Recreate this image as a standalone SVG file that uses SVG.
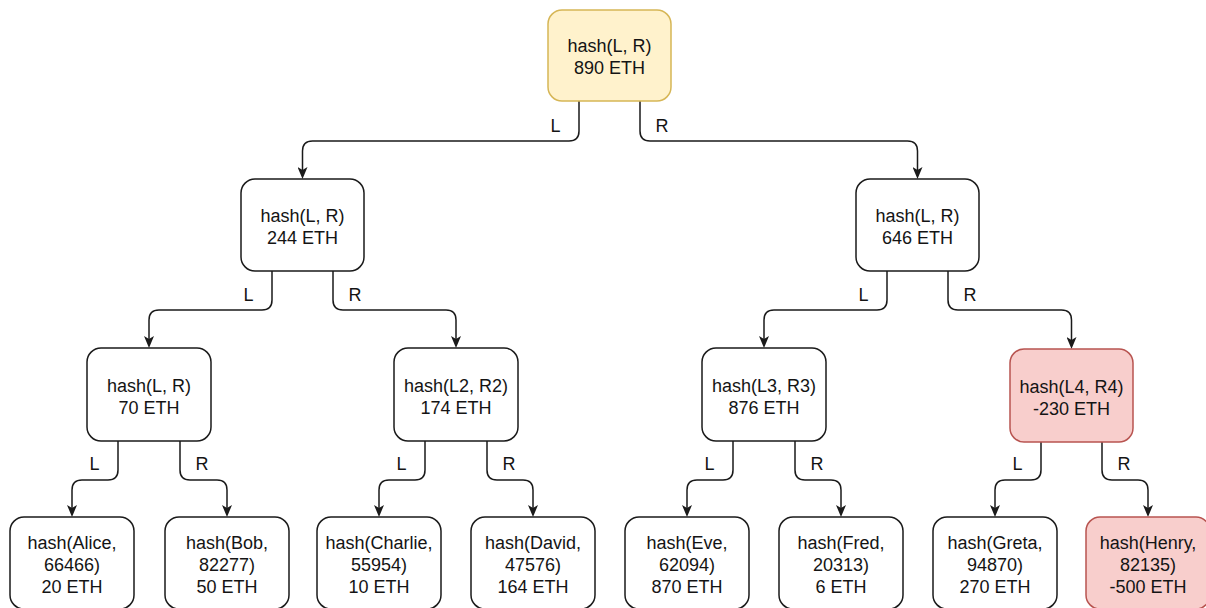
<svg xmlns="http://www.w3.org/2000/svg" width="1206" height="608" viewBox="0 0 1206 608">
  <style>
    .box { fill: #ffffff; stroke: #1a1a1a; stroke-width: 1.5; }
    .root { fill: #fff2cc; stroke: #d6b656; }
    .neg { fill: #f8cecc; stroke: #b85450; }
    .txt { font-family: "Liberation Sans", Arial, sans-serif; font-size: 18px; fill: #141414; text-anchor: middle; }
    .edge { fill: none; stroke: #1a1a1a; stroke-width: 1.5; marker-end: url(#arrow); }
    .lbl { font-family: "Liberation Sans", Arial, sans-serif; font-size: 18px; fill: #141414; text-anchor: middle; }
  </style>
  <defs>
    <marker id="arrow" markerUnits="userSpaceOnUse" markerWidth="12" markerHeight="10" viewBox="0 0 12 10" refX="3" refY="5" orient="auto">
      <path d="M0,0 L12,5 L0,10 L3,5 Z" fill="#1a1a1a"/>
    </marker>
  </defs>
  <rect width="1206" height="608" fill="#ffffff"/>

  <!-- connectors: orthogonal with rounded bends, labelled L / R -->
  <g id="connectors">
    <!-- root -->
    <path class="edge" d="M579,101 V131 Q579,141 569,141 H312.5 Q302.5,141 302.5,151 V170"/>
    <path class="edge" d="M640,101 V131 Q640,141 650,141 H907.5 Q917.5,141 917.5,151 V170"/>
    <text class="lbl" x="555.5" y="131.5">L</text>
    <text class="lbl" x="662" y="131.5">R</text>

    <!-- left subtree, level 2 -->
    <path class="edge" d="M272,271 V300 Q272,310 262,310 H159 Q149,310 149,320 V339"/>
    <path class="edge" d="M333,271 V300 Q333,310 343,310 H446 Q456,310 456,320 V339"/>
    <text class="lbl" x="248.5" y="300.5">L</text>
    <text class="lbl" x="355" y="300.5">R</text>

    <!-- right subtree, level 2 -->
    <path class="edge" d="M887,271 V300 Q887,310 877,310 H774 Q764,310 764,320 V339"/>
    <path class="edge" d="M948,271 V300 Q948,310 958,310 H1061.5 Q1071.5,310 1071.5,320 V340"/>
    <text class="lbl" x="863.5" y="300.5">L</text>
    <text class="lbl" x="970" y="300.5">R</text>

    <!-- level 3 to leaves -->
    <path class="edge" d="M118,441 V470 Q118,480 108,480 H82 Q72,480 72,490 V508"/>
    <path class="edge" d="M180,441 V470 Q180,480 190,480 H217 Q227,480 227,490 V508"/>
    <text class="lbl" x="94.5" y="470">L</text>
    <text class="lbl" x="202" y="470">R</text>

    <path class="edge" d="M425,441 V470 Q425,480 415,480 H389 Q379,480 379,490 V508"/>
    <path class="edge" d="M487,441 V470 Q487,480 497,480 H523 Q533,480 533,490 V508"/>
    <text class="lbl" x="401.5" y="470">L</text>
    <text class="lbl" x="509" y="470">R</text>

    <path class="edge" d="M733,441 V470 Q733,480 723,480 H697 Q687,480 687,490 V508"/>
    <path class="edge" d="M795,441 V470 Q795,480 805,480 H831 Q841,480 841,490 V508"/>
    <text class="lbl" x="709.5" y="470">L</text>
    <text class="lbl" x="817" y="470">R</text>

    <path class="edge" d="M1041,442 V470 Q1041,480 1031,480 H1005 Q995,480 995,490 V508"/>
    <path class="edge" d="M1102,442 V470 Q1102,480 1112,480 H1138 Q1148,480 1148,490 V508"/>
    <text class="lbl" x="1017.5" y="470">L</text>
    <text class="lbl" x="1124" y="470">R</text>
  </g>

  <!-- root -->
  <g id="node-root">
    <rect class="box root" x="548" y="10" width="123" height="91" rx="14"/>
    <text class="txt" x="609.5" y="52">hash(L, R)</text>
    <text class="txt" x="609.5" y="74">890 ETH</text>
  </g>

  <!-- level 2 -->
  <g id="node-l2-left">
    <rect class="box" x="241" y="179" width="123" height="92" rx="14"/>
    <text class="txt" x="302.5" y="222">hash(L, R)</text>
    <text class="txt" x="302.5" y="244">244 ETH</text>
  </g>
  <g id="node-l2-right">
    <rect class="box" x="856" y="179" width="123" height="92" rx="14"/>
    <text class="txt" x="917.5" y="222">hash(L, R)</text>
    <text class="txt" x="917.5" y="244">646 ETH</text>
  </g>

  <!-- level 3 -->
  <g id="node-l3-a">
    <rect class="box" x="87" y="348" width="124" height="93" rx="14"/>
    <text class="txt" x="149" y="392">hash(L, R)</text>
    <text class="txt" x="149" y="414">70 ETH</text>
  </g>
  <g id="node-l3-b">
    <rect class="box" x="394" y="348" width="124" height="93" rx="14"/>
    <text class="txt" x="456" y="392">hash(L2, R2)</text>
    <text class="txt" x="456" y="414">174 ETH</text>
  </g>
  <g id="node-l3-c">
    <rect class="box" x="702" y="348" width="124" height="93" rx="14"/>
    <text class="txt" x="764" y="392">hash(L3, R3)</text>
    <text class="txt" x="764" y="414">876 ETH</text>
  </g>
  <g id="node-l3-d">
    <rect class="box neg" x="1010" y="349" width="123" height="93" rx="14"/>
    <text class="txt" x="1071.5" y="393">hash(L4, R4)</text>
    <text class="txt" x="1071.5" y="415">-230 ETH</text>
  </g>

  <!-- leaves -->
  <g id="leaf-alice">
    <rect class="box" x="10" y="517" width="124" height="92" rx="14"/>
    <text class="txt" x="72" y="549">hash(Alice,</text>
    <text class="txt" x="72" y="571">66466)</text>
    <text class="txt" x="72" y="593">20 ETH</text>
  </g>
  <g id="leaf-bob">
    <rect class="box" x="165" y="517" width="124" height="92" rx="14"/>
    <text class="txt" x="227" y="549">hash(Bob,</text>
    <text class="txt" x="227" y="571">82277)</text>
    <text class="txt" x="227" y="593">50 ETH</text>
  </g>
  <g id="leaf-charlie">
    <rect class="box" x="317" y="517" width="124" height="92" rx="14"/>
    <text class="txt" x="379" y="549">hash(Charlie,</text>
    <text class="txt" x="379" y="571">55954)</text>
    <text class="txt" x="379" y="593">10 ETH</text>
  </g>
  <g id="leaf-david">
    <rect class="box" x="471" y="517" width="124" height="92" rx="14"/>
    <text class="txt" x="533" y="549">hash(David,</text>
    <text class="txt" x="533" y="571">47576)</text>
    <text class="txt" x="533" y="593">164 ETH</text>
  </g>
  <g id="leaf-eve">
    <rect class="box" x="625" y="517" width="124" height="92" rx="14"/>
    <text class="txt" x="687" y="549">hash(Eve,</text>
    <text class="txt" x="687" y="571">62094)</text>
    <text class="txt" x="687" y="593">870 ETH</text>
  </g>
  <g id="leaf-fred">
    <rect class="box" x="779" y="517" width="124" height="92" rx="14"/>
    <text class="txt" x="841" y="549">hash(Fred,</text>
    <text class="txt" x="841" y="571">20313)</text>
    <text class="txt" x="841" y="593">6 ETH</text>
  </g>
  <g id="leaf-greta">
    <rect class="box" x="933" y="517" width="124" height="92" rx="14"/>
    <text class="txt" x="995" y="549">hash(Greta,</text>
    <text class="txt" x="995" y="571">94870)</text>
    <text class="txt" x="995" y="593">270 ETH</text>
  </g>
  <g id="leaf-henry">
    <rect class="box neg" x="1086" y="517" width="124" height="92" rx="14"/>
    <text class="txt" x="1148" y="549">hash(Henry,</text>
    <text class="txt" x="1148" y="571">82135)</text>
    <text class="txt" x="1148" y="593">-500 ETH</text>
  </g>
</svg>
